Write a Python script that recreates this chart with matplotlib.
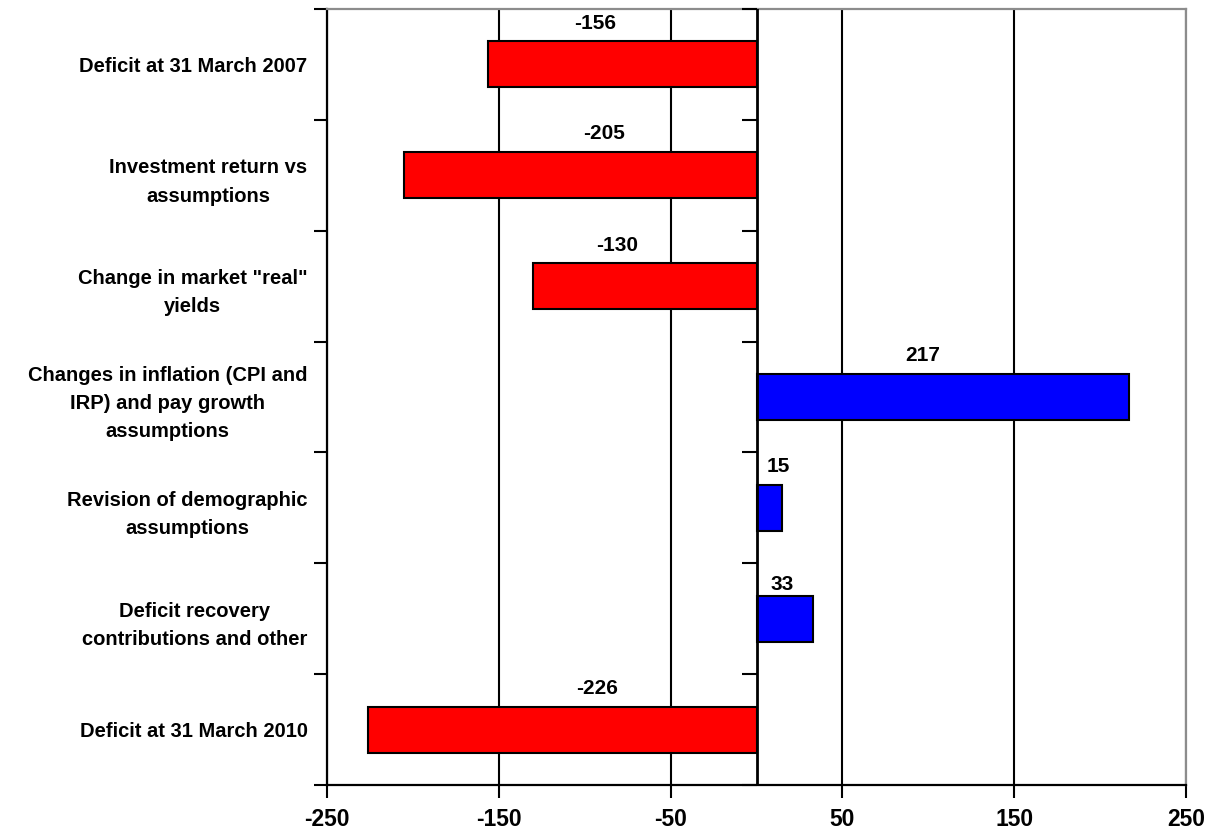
import matplotlib
matplotlib.use("Agg")
import matplotlib.pyplot as plt
import numpy as np

plt.rcParams['font.family'] = ['Liberation Sans', 'DejaVu Sans']
plt.rcParams['font.weight'] = 'bold'

categories = [
    "Deficit at 31 March 2007",
    "Investment return vs\nassumptions",
    "Change in market \"real\"\nyields",
    "Changes in inflation (CPI and\nIRP) and pay growth\nassumptions",
    "Revision of demographic\nassumptions",
    "Deficit recovery\ncontributions and other",
    "Deficit at 31 March 2010",
]
values = [-156, -205, -130, 217, 15, 33, -226]

# where each value label sits (x in data units, y offset above the bar centre)
label_x = [-94, -88.5, -81, 97, 12.5, 14.8, -93]
label_dy = [-0.37, -0.375, -0.37, -0.37, -0.37, -0.31, -0.37]

x_ticks = [-250, -150, -50, 50, 150, 250]

fig = plt.figure(figsize=(12.14, 8.30), dpi=100)
ax = fig.add_axes([327 / 1214, 1 - 785 / 830, 859 / 1214, 776 / 830])

ypos = np.arange(len(categories))
colors = ['#FF0000' if v < 0 else '#0000FF' for v in values]
ax.barh(ypos, values, height=0.415, color=colors, edgecolor='black',
        linewidth=1.5, zorder=3)

for y, v, lx, dy in zip(ypos, values, label_x, label_dy):
    ax.text(lx, y + dy, f"{v}", ha='center', va='center',
            fontsize=15, fontweight='bold', zorder=4)

ax.set_xlim(-250, 250)
ax.set_ylim(len(categories) - 0.5, -0.5)

ax.set_xticks(x_ticks)
ax.set_xticklabels([str(t) for t in x_ticks], fontsize=16.5, fontweight='bold')
ax.tick_params(axis='x', direction='out', length=9.5, width=1.5, pad=7)
ax.xaxis.grid(True, color='black', linewidth=1.5, zorder=1)

ax.set_yticks(ypos)
ax.set_yticklabels(categories, fontsize=14.5, fontweight='bold')
for t in ax.get_yticklabels():
    t.set_multialignment('center')
    t.set_linespacing(1.62)
boundaries = np.arange(len(categories) + 1) - 0.5
ax.set_yticks(boundaries, minor=True)
ax.tick_params(axis='y', which='major', length=0, pad=14)
ax.tick_params(axis='y', which='minor', direction='out', length=9.5, width=1.5)

for side in ('left', 'bottom'):
    ax.spines[side].set_linewidth(1.6)
    ax.spines[side].set_color('black')
for side in ('top', 'right'):
    ax.spines[side].set_linewidth(1.6)
    ax.spines[side].set_color('#8c8c8c')

# category axis crossing at zero, with its own tick marks pointing left
ax.axvline(0, color='black', linewidth=2, zorder=5)
ax.plot(np.zeros(len(boundaries)), boundaries, linestyle='none', marker=0,
        markersize=10.5, markeredgewidth=1.5, color='black', zorder=5,
        clip_on=False)

fig.savefig("out.png", dpi=100)
